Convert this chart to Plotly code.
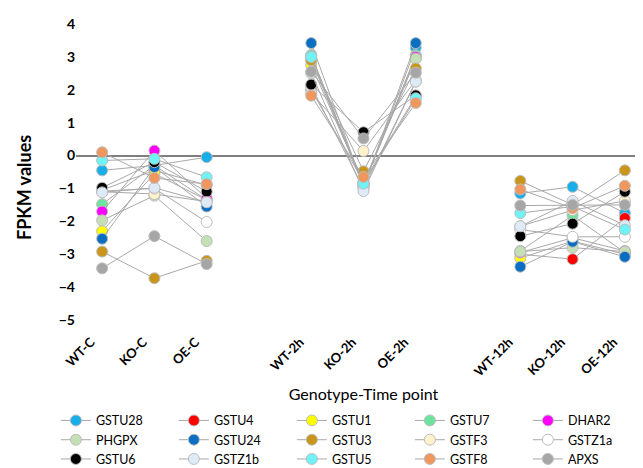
import plotly.graph_objects as go

categories = ["WT-C", "KO-C", "OE-C", "WT-2h", "KO-2h", "OE-2h", "WT-12h", "KO-12h", "OE-12h"]
x_positions = [0, 1, 2, 4, 5, 6, 8, 9, 10]

genes = ["GSTU28", "GSTU4", "GSTU1", "GSTU7", "DHAR2",
         "PHGPX", "GSTU24", "GSTU3", "GSTF3", "GSTZ1a",
         "GSTU6", "GSTZ1b", "GSTU5", "GSTF8", "APXS"]

colors = ["#18aee8", "#ff0000", "#ffff00", "#6ee39f", "#ff00ff",
          "#c5e0b4", "#0a6fc2", "#c9961a", "#fff2cc", "#ffffff",
          "#000000", "#deebf7", "#6ff3f7", "#f0965f", "#a6a6a6"]

# values per gene: WT-C, KO-C, OE-C, WT-2h, KO-2h, OE-2h, WT-12h, KO-12h, OE-12h
GSTU28 = [-0.45, -0.30, -0.05, 3.05, -0.95, 3.28, -1.15, -0.95, -1.75]
GSTU4  = [-1.05, -0.45, -0.90, 2.00, -0.80, 1.80, -3.00, -3.15, -1.90]
GSTU1  = [-2.30, -0.55, -1.35, 2.75, -0.85, 2.95, -3.12, -2.60, -3.00]
GSTU7  = [-1.48, -0.30, -1.35, 3.05, -0.90, 3.05, -2.90, -1.82, -2.95]
DHAR2  = [-1.70, 0.15, -1.30, 2.97, -0.88, 3.00, -2.95, -2.50, -2.90]
PHGPX  = [-1.97, -1.22, -2.60, 2.90, -0.90, 2.95, -2.92, -2.80, -2.92]
GSTU24 = [-2.53, -0.35, -1.55, 3.42, -0.95, 3.42, -3.38, -2.62, -3.08]
GSTU3  = [-2.92, -3.73, -3.20, 2.90, -0.48, 2.65, -0.77, -1.50, -0.45]
GSTF3  = [-1.10, -1.17, -1.40, 1.90, 0.14, 2.30, -2.15, -1.66, -1.38]
GSTZ1a = [-1.08, -1.00, -2.02, 2.10, -1.00, 2.25, -2.25, -2.47, -2.47]
GSTU6  = [-0.98, -0.20, -1.10, 2.16, 0.71, 1.83, -2.45, -2.07, -1.10]
GSTZ1b = [-1.12, -0.98, -1.42, 2.50, -1.08, 2.25, -2.15, -1.38, -2.12]
GSTU5  = [-0.15, -0.10, -0.66, 3.00, -0.85, 1.74, -1.75, -1.55, -2.25]
GSTF8  = [0.10, -0.68, -0.87, 1.82, -0.65, 1.60, -1.03, -1.60, -0.92]
APXS   = [-3.43, -2.45, -3.30, 2.55, 0.52, 2.52, -1.52, -1.50, -1.50]

series = [GSTU28, GSTU4, GSTU1, GSTU7, DHAR2,
          PHGPX, GSTU24, GSTU3, GSTF3, GSTZ1a,
          GSTU6, GSTZ1b, GSTU5, GSTF8, APXS]

FONT = "Lato"
NBSP = "\u00a0"

fig = go.Figure()
for name, color, vals in zip(genes, colors, series):
    xs, ys = [], []
    for i, (xp, v) in enumerate(zip(x_positions, vals)):
        if i in (3, 6):
            xs.append(xp - 1)
            ys.append(None)
        xs.append(xp)
        ys.append(v)
    fig.add_trace(go.Scatter(
        x=xs, y=ys, name=name, mode="lines+markers",
        connectgaps=False,
        line=dict(color="#a9a9a9", width=1),
        marker=dict(symbol="circle", size=11, color=color,
                    line=dict(color="#bdbdbd", width=1)),
    ))

fig.update_layout(
    width=643, height=468,
    margin=dict(l=68, r=0, t=16, b=156),
    plot_bgcolor="white", paper_bgcolor="white",
    font=dict(family=FONT, color="#000000"),
    showlegend=True,
    legend=dict(
        orientation="h", xref="paper", yref="paper",
        x=-0.035, y=-0.29, xanchor="left", yanchor="top",
        entrywidth=73, tracegroupgap=0, itemclick=False,
        font=dict(family=FONT, size=12.5, color="#000000"),
        traceorder="normal",
    ),
    xaxis=dict(
        range=[-0.5, 10.5], tickmode="array",
        tickvals=x_positions, ticktext=[c + NBSP * 5 for c in categories],
        tickangle=-45, showgrid=False, zeroline=False, showline=False,
        ticks="", tickfont=dict(family=FONT, size=13, color="#000000", weight="bold"),
        title=dict(text="Genotype-Time point", font=dict(family=FONT, size=16, color="#000000"), standoff=10),
    ),
    yaxis=dict(
        range=[-5, 4], tickmode="array", tickvals=list(range(-5, 5)),
        showgrid=False, zeroline=True, zerolinecolor="#7f7f7f", zerolinewidth=1.5,
        showline=False, ticks="", ticklabelstandoff=0,
        tickfont=dict(family=FONT, size=14, color="#000000", weight="bold"),
    ),
    annotations=[dict(
        text="FPKM values", xref="paper", yref="paper",
        x=(16 - 68) / 575, y=(312 - 180) / 296, xanchor="center", yanchor="middle",
        textangle=-90, showarrow=False,
        font=dict(family=FONT, size=18, color="#000000", weight="bold"),
    )],
)

fig.write_html("out.html")
